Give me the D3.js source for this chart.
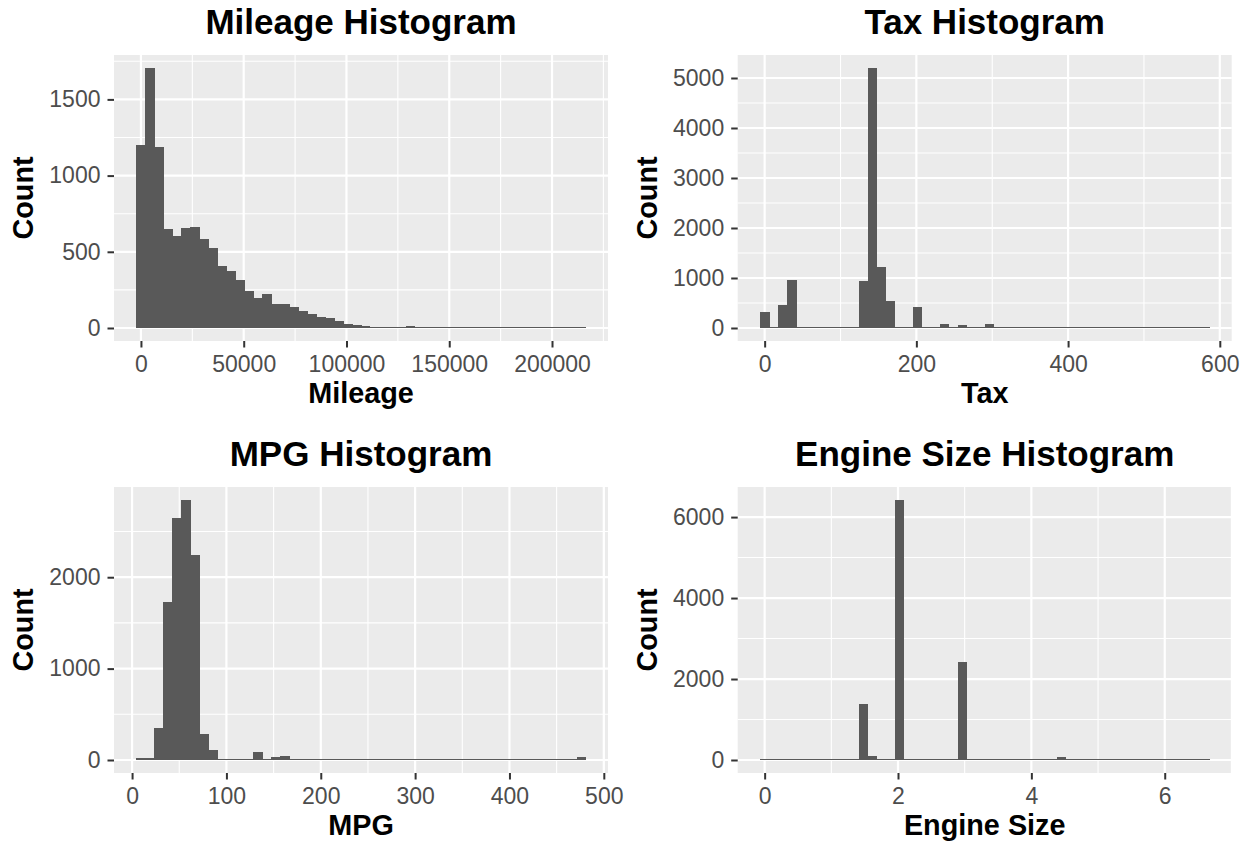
<!DOCTYPE html>
<html>
<head>
<meta charset="utf-8">
<script src="https://cdn.jsdelivr.net/npm/d3@7"></script>
<style>
  html, body { margin: 0; padding: 0; background: #fff; }
  svg { display: block; font-family: "Liberation Sans", Arial, Helvetica, sans-serif; }
</style>
</head>
<body>
<div id="chart"></div>
<script>
// Histogram counts (50 bins each, ggplot-style bins)
const mileageCounts = [1200, 1706, 1186, 647, 605, 653, 660, 581, 522, 410,
    377, 318, 246, 200, 226, 160, 160, 140, 114, 94,
    75, 68, 48, 29, 22, 15, 9, 9, 4, 9,
    15, 2, 1, 1, 0, 1, 0, 0, 0, 0,
    0, 0, 0, 0, 0, 0, 0, 0, 0, 1];
const taxCounts = [327, 0, 467, 967, 0, 0, 0, 0, 0, 0,
    0, 947, 5200, 1230, 548, 0, 0, 428, 0, 0,
    87, 0, 67, 0, 0, 87, 27, 27, 0, 0,
    0, 0, 0, 0, 0, 0, 0, 0, 0, 0,
    0, 0, 0, 0, 0, 0, 0, 0, 27, 5];
const mpgCounts = [18, 18, 355, 1726, 2647, 2845, 2241, 289, 114, 3,
    1, 2, 2, 92, 16, 37, 48, 0, 0, 0,
    0, 0, 0, 0, 0, 0, 0, 0, 0, 0,
    0, 0, 0, 0, 0, 0, 0, 0, 0, 0,
    0, 0, 0, 0, 0, 0, 0, 0, 0, 37];
const engineCounts = [33, 0, 0, 0, 0, 0, 0, 0, 0, 0,
    0, 1395, 107, 0, 0, 6422, 0, 0, 0, 0,
    0, 0, 2410, 0, 0, 0, 0, 0, 0, 0,
    0, 0, 0, 83, 0, 0, 0, 0, 0, 0,
    0, 0, 0, 0, 0, 0, 0, 0, 0, 0];

// Bin centre of the first bin and bin width for each variable
const binMins = [1, 0, 9.4, 0];
const binWidths = [4370, 11.84, 9.52, 0.1347];

const titles = ['Mileage Histogram', 'Tax Histogram', 'MPG Histogram', 'Engine Size Histogram'];
const xTitles = ['Mileage', 'Tax', 'MPG', 'Engine Size'];
const yTitle = 'Count';

const xTicks = [
    [0, 50000, 100000, 150000, 200000],
    [0, 200, 400, 600],
    [0, 100, 200, 300, 400, 500],
    [0, 2, 4, 6],
];
const yTicks = [
    [0, 500, 1000, 1500],
    [0, 1000, 2000, 3000, 4000, 5000],
    [0, 1000, 2000],
    [0, 2000, 4000, 6000],
];

const allCounts = [mileageCounts, taxCounts, mpgCounts, engineCounts];

// --- Layout ---
const width = 1247;
const height = 843;
const colLeft = [114, 737.7];
const rowTop = [55, 487];
const panelW = 494;
const panelH = 286;

const svg = d3.select('#chart').append('svg')
    .attr('width', width)
    .attr('height', height);

// minor breaks = midpoints between majors (extended one step each side)
function minorBreaks(major, domain) {
    const step = major[1] - major[0];
    const ext = [major[0] - step, ...major, major[major.length - 1] + step];
    const out = [];
    for (let i = 0; i < ext.length - 1; i++) {
        const m = (ext[i] + ext[i + 1]) / 2;
        if (m >= domain[0] && m <= domain[1]) out.push(m);
    }
    return out;
}

function expand(lo, hi) {
    const pad = (hi - lo) * 0.05;
    return [lo - pad, hi + pad];
}

function drawPanel(i) {
    const counts = allCounts[i];
    const w = binWidths[i];
    const bins = counts.map((c, k) => {
        const mid = binMins[i] + k * w;
        return { x0: mid - w / 2, x1: mid + w / 2, count: c };
    });

    const left = colLeft[i % 2];
    const top = rowTop[Math.floor(i / 2)];

    const xDomain = expand(bins[0].x0, bins[bins.length - 1].x1);
    const yDomain = expand(0, d3.max(counts));

    const x = d3.scaleLinear().domain(xDomain).range([0, panelW]);
    const y = d3.scaleLinear().domain(yDomain).range([panelH, 0]);

    const g = svg.append('g').attr('transform', `translate(${left},${top})`);

    // panel background
    g.append('rect')
        .attr('width', panelW)
        .attr('height', panelH)
        .attr('fill', '#EBEBEB');

    // minor grid
    g.selectAll('line.xminor')
        .data(minorBreaks(xTicks[i], xDomain))
        .join('line')
        .attr('x1', d => x(d)).attr('x2', d => x(d))
        .attr('y1', 0).attr('y2', panelH)
        .attr('stroke', '#fff').attr('stroke-width', 1.1);
    g.selectAll('line.yminor')
        .data(minorBreaks(yTicks[i], yDomain))
        .join('line')
        .attr('y1', d => y(d)).attr('y2', d => y(d))
        .attr('x1', 0).attr('x2', panelW)
        .attr('stroke', '#fff').attr('stroke-width', 1.1);

    // major grid
    g.selectAll('line.xmajor')
        .data(xTicks[i])
        .join('line')
        .attr('x1', d => x(d)).attr('x2', d => x(d))
        .attr('y1', 0).attr('y2', panelH)
        .attr('stroke', '#fff').attr('stroke-width', 2.2);
    g.selectAll('line.ymajor')
        .data(yTicks[i])
        .join('line')
        .attr('y1', d => y(d)).attr('y2', d => y(d))
        .attr('x1', 0).attr('x2', panelW)
        .attr('stroke', '#fff').attr('stroke-width', 2.2);

    // bars (zero bins still show as a hairline, like the R device)
    g.selectAll('rect.bar')
        .data(bins)
        .join('rect')
        .attr('class', 'bar')
        .attr('x', d => x(d.x0))
        .attr('width', d => x(d.x1) - x(d.x0) + 0.5)
        .attr('y', d => Math.min(y(d.count), y(0) - 1))
        .attr('height', d => Math.max(y(0) - y(d.count), 1))
        .attr('fill', '#595959')
        .attr('shape-rendering', 'crispEdges');

    // axes
    const xAxis = g.append('g')
        .attr('transform', `translate(0,${panelH})`)
        .call(d3.axisBottom(x).tickValues(xTicks[i]).tickSize(6.5).tickPadding(6).tickFormat(d3.format('d')));
    const yAxis = g.append('g')
        .call(d3.axisLeft(y).tickValues(yTicks[i]).tickSize(6.5).tickPadding(7).tickFormat(d3.format('d')));

    [xAxis, yAxis].forEach(ax => {
        ax.select('.domain').remove();
        ax.selectAll('.tick line').attr('stroke', '#333333').attr('stroke-width', 2);
        ax.selectAll('.tick text')
            .attr('fill', '#4D4D4D')
            .style('font-size', '23px')
            .style('font-family', '"Liberation Sans", Arial, sans-serif');
    });
    xAxis.selectAll('.tick text').attr('dy', null).attr('y', 30.5);

    // titles
    g.append('text')
        .attr('x', panelW / 2)
        .attr('y', -21.5)
        .attr('text-anchor', 'middle')
        .style('font-size', '35px')
        .style('font-weight', 'bold')
        .text(titles[i]);

    g.append('text')
        .attr('x', panelW / 2)
        .attr('y', panelH + 62.3)
        .attr('text-anchor', 'middle')
        .style('font-size', '28.8px')
        .style('font-weight', 'bold')
        .text(xTitles[i]);

    g.append('text')
        .attr('transform', `translate(-80.7,${panelH / 2}) rotate(-90)`)
        .attr('text-anchor', 'middle')
        .style('font-size', '28.8px')
        .style('font-weight', 'bold')
        .text(yTitle);
}

for (let i = 0; i < 4; i++) drawPanel(i);
</script>
</body>
</html>
